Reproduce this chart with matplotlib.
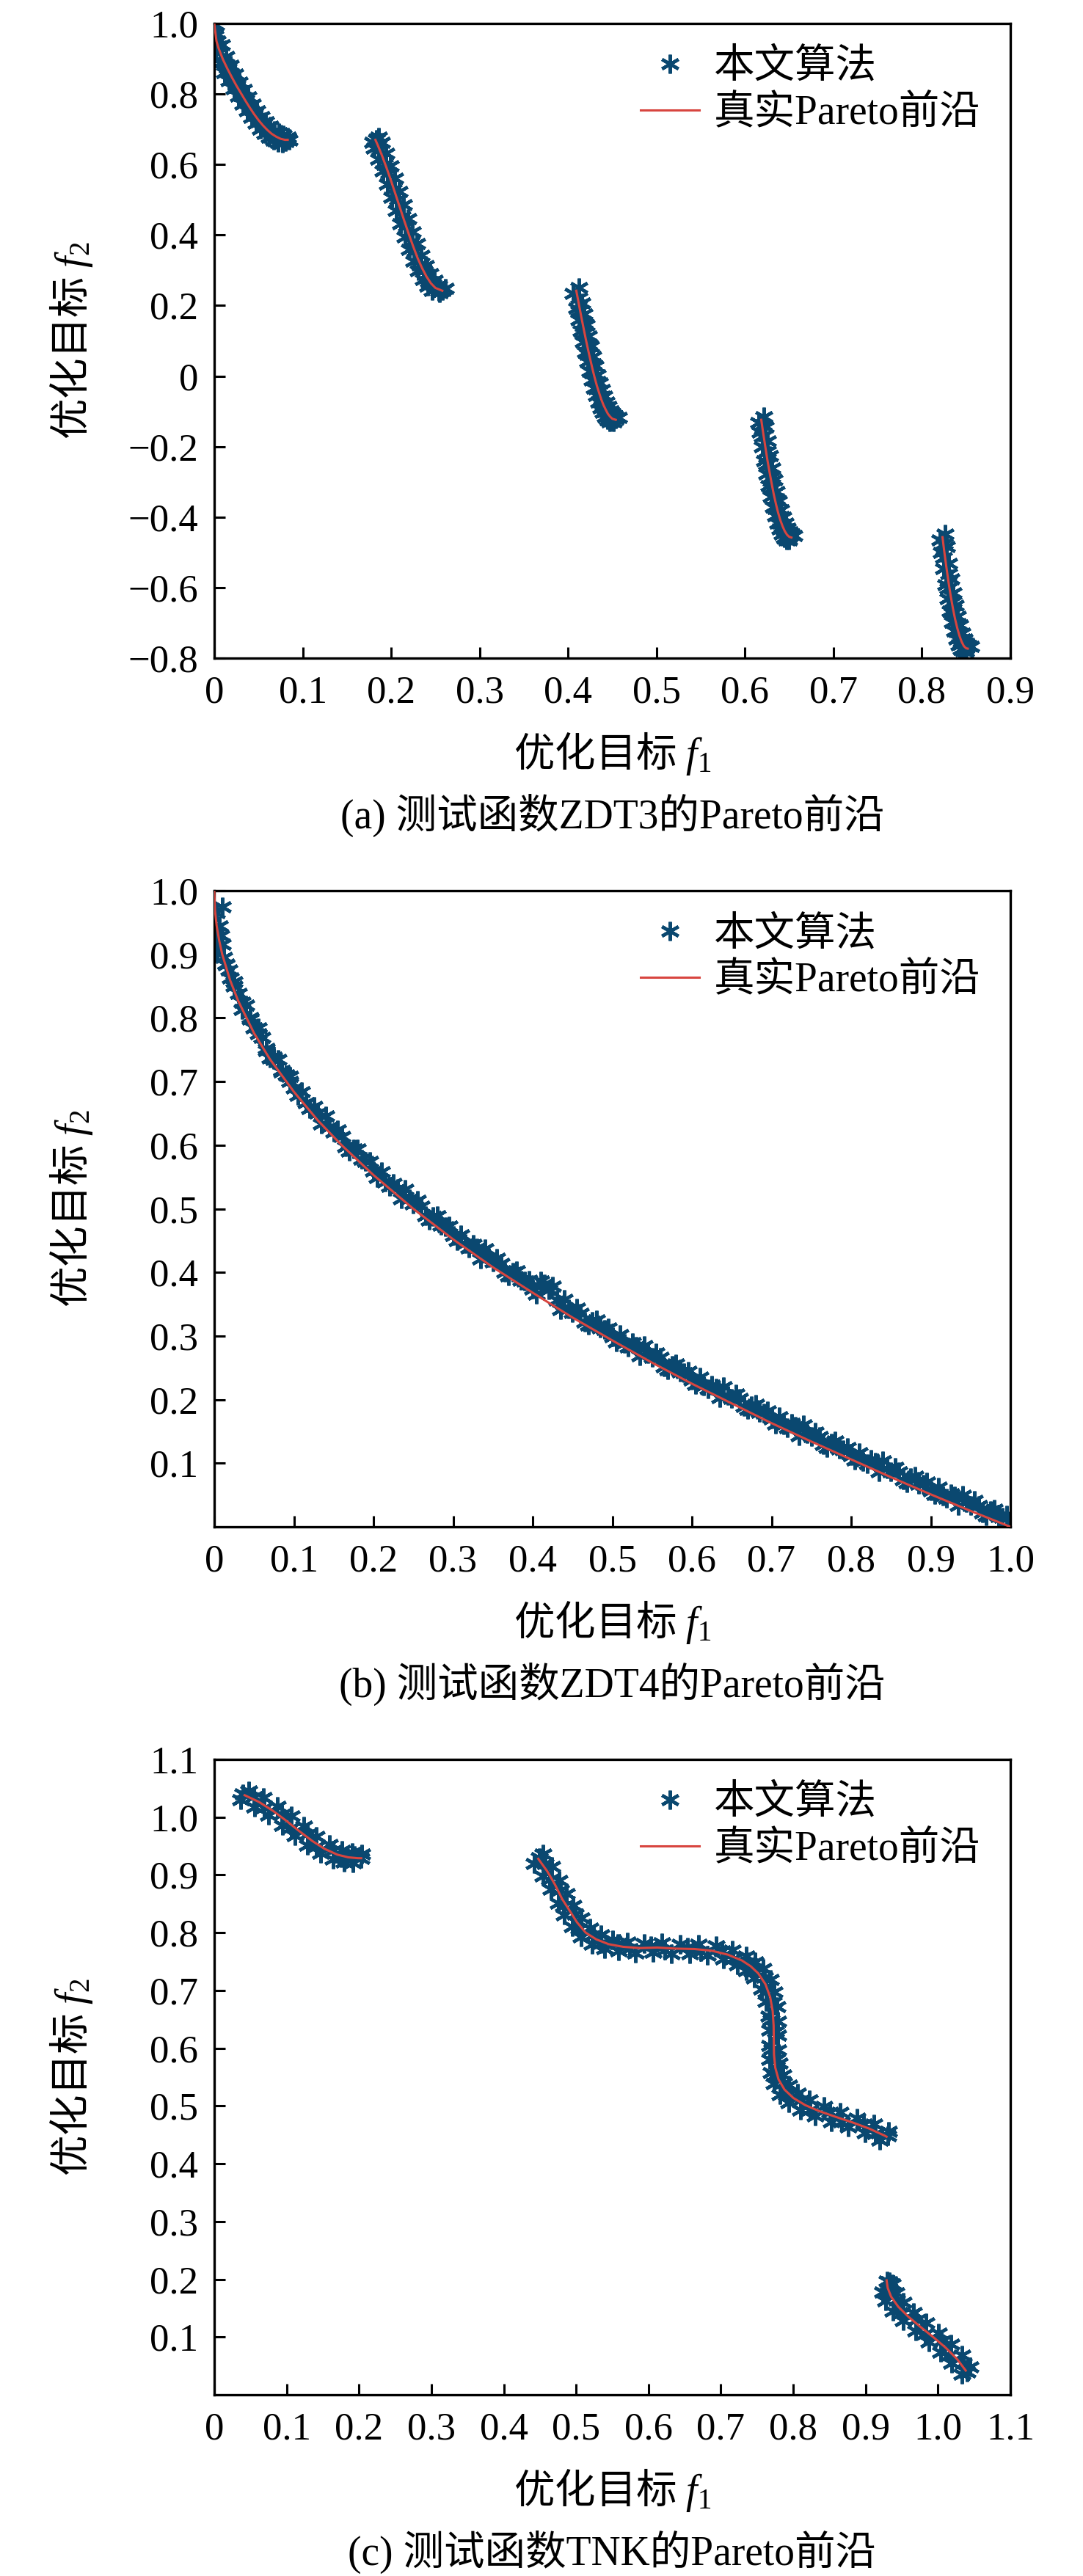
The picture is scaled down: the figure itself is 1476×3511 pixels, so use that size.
import matplotlib
matplotlib.use("Agg")
import matplotlib.pyplot as plt
from matplotlib.ticker import FixedLocator, FixedFormatter

plt.rcParams['font.family'] = ['Liberation Serif', 'Noto Sans CJK SC']
plt.rcParams['mathtext.fontset'] = 'custom'
plt.rcParams['mathtext.rm'] = 'Liberation Serif'
plt.rcParams['mathtext.it'] = 'Liberation Serif:italic'
plt.rcParams['mathtext.bf'] = 'Liberation Serif:bold'

# ---------------- texts ----------------
legend_labels = ['本文算法', '真实Pareto前沿']
xlabel_text = r'优化目标 $f_\mathrm{1}$'
ylabel_text = r'优化目标 $f_\mathrm{2}$'
captions = ['(a) 测试函数ZDT3的Pareto前沿',
            '(b) 测试函数ZDT4的Pareto前沿',
            '(c) 测试函数TNK的Pareto前沿']

# ---------------- panel (a) ZDT3 ----------------
zdt3_xticks = [0, 0.1, 0.2, 0.3, 0.4, 0.5, 0.6, 0.7, 0.8, 0.9]
zdt3_xticklabels = ['0', '0.1', '0.2', '0.3', '0.4', '0.5', '0.6', '0.7', '0.8', '0.9']
zdt3_yticks = [-0.8, -0.6, -0.4, -0.2, 0, 0.2, 0.4, 0.6, 0.8, 1.0]
zdt3_yticklabels = ['\u22120.8', '\u22120.6', '\u22120.4', '\u22120.2', '0', '0.2', '0.4', '0.6', '0.8', '1.0']

zdt3_line_f1 = [
    [0.0, 0.0025, 0.005, 0.01, 0.015, 0.02, 0.025, 0.03, 0.035, 0.04, 0.045, 0.05, 0.055, 0.06, 0.065, 0.07, 0.075, 0.08, 0.083],
    [0.1822, 0.185, 0.19, 0.195, 0.20, 0.205, 0.21, 0.215, 0.22, 0.225, 0.23, 0.235, 0.24, 0.245, 0.25, 0.2578],
    [0.4093, 0.4125, 0.415, 0.4175, 0.42, 0.4225, 0.425, 0.4275, 0.43, 0.4325, 0.435, 0.4375, 0.44, 0.4425, 0.445, 0.4475, 0.45, 0.4539],
    [0.6184, 0.62, 0.6225, 0.625, 0.6275, 0.63, 0.6325, 0.635, 0.6375, 0.64, 0.6425, 0.645, 0.6475, 0.65, 0.6525],
    [0.8233, 0.825, 0.8275, 0.83, 0.8325, 0.835, 0.8375, 0.84, 0.8425, 0.845, 0.8475, 0.85, 0.8518],
]
zdt3_line_f2 = [
    [1.0, 0.950, 0.929, 0.897, 0.871, 0.847, 0.824, 0.803, 0.782, 0.762, 0.743, 0.726, 0.711, 0.698, 0.687, 0.679, 0.673, 0.670, 0.670],
    [0.670, 0.654, 0.623, 0.589, 0.553, 0.515, 0.477, 0.439, 0.402, 0.367, 0.334, 0.306, 0.282, 0.263, 0.250, 0.242],
    [0.242, 0.200, 0.167, 0.136, 0.105, 0.076, 0.048, 0.021, -0.004, -0.027, -0.047, -0.066, -0.082, -0.095, -0.107, -0.115, -0.121, -0.124],
    [-0.124, -0.152, -0.193, -0.233, -0.269, -0.303, -0.335, -0.363, -0.388, -0.409, -0.426, -0.440, -0.450, -0.456, -0.458],
    [-0.457, -0.492, -0.539, -0.583, -0.623, -0.658, -0.689, -0.715, -0.737, -0.754, -0.766, -0.772, -0.773],
]

zdt3_pts_f1 = [
    # segment 1
    0.002, 0.000, 0.001, 0.003, 0.000, 0.008, 0.002, 0.013, 0.007, 0.018, 0.012, 0.023, 0.017,
    0.028, 0.022, 0.033, 0.027, 0.038, 0.032, 0.043, 0.037, 0.048, 0.042, 0.053, 0.047, 0.058,
    0.052, 0.063, 0.057, 0.068, 0.062, 0.073, 0.067, 0.078, 0.072, 0.083, 0.077, 0.085,
    0.0045, 0.0105, 0.0155, 0.0205, 0.0255, 0.0305, 0.0355, 0.0405, 0.0455, 0.0505, 0.0555,
    0.0605, 0.0655, 0.0705, 0.0755, 0.0805,
    # segment 2
    0.186, 0.179, 0.183, 0.189, 0.181, 0.194, 0.186, 0.199, 0.191, 0.204, 0.196, 0.209, 0.201,
    0.214, 0.206, 0.219, 0.211, 0.224, 0.216, 0.229, 0.221, 0.234, 0.226, 0.239, 0.231, 0.244,
    0.236, 0.249, 0.241, 0.254, 0.246, 0.261, 0.255, 0.258,
    0.1875, 0.1925, 0.1975, 0.2025, 0.2075, 0.2125, 0.2175, 0.2225, 0.2275, 0.2325, 0.2375,
    0.2425, 0.2475, 0.2535,
    # segment 3
    0.412, 0.406, 0.4155, 0.4095, 0.418, 0.412, 0.4205, 0.4145, 0.423, 0.417, 0.4255, 0.4195,
    0.428, 0.422, 0.4305, 0.4245, 0.433, 0.427, 0.4355, 0.4295, 0.438, 0.432, 0.4405, 0.4345,
    0.443, 0.437, 0.4455, 0.4395, 0.448, 0.442, 0.4505, 0.4445, 0.453, 0.447, 0.457, 0.451,
    0.4125, 0.4123, 0.4178, 0.4173, 0.4228, 0.4223, 0.4278, 0.4273, 0.4328, 0.4323, 0.4378,
    0.4373, 0.4428, 0.4423, 0.4478, 0.4473, 0.4535,
    # segment 4
    0.6214, 0.6154, 0.623, 0.617, 0.6255, 0.6195, 0.628, 0.622, 0.6305, 0.6245, 0.633, 0.627,
    0.6355, 0.6295, 0.638, 0.632, 0.6405, 0.6345, 0.643, 0.637, 0.6455, 0.6395, 0.648, 0.642,
    0.6505, 0.6445, 0.653, 0.647, 0.6555, 0.6495,
    0.6207, 0.6198, 0.6253, 0.6248, 0.6303, 0.6298, 0.6353, 0.6348, 0.6403, 0.6398, 0.6453,
    0.6448, 0.6503, 0.6498,
    # segment 5
    0.8263, 0.8203, 0.828, 0.822, 0.8305, 0.8245, 0.833, 0.827, 0.8355, 0.8295, 0.838, 0.832,
    0.8405, 0.8345, 0.843, 0.837, 0.8455, 0.8395, 0.848, 0.842, 0.8505, 0.8445, 0.853, 0.847,
    0.855, 0.849,
    0.8257, 0.8248, 0.8303, 0.8298, 0.8353, 0.8348, 0.8403, 0.8398, 0.8453, 0.8448, 0.8503, 0.8498,
]
zdt3_pts_f2 = [
    # segment 1
    0.995, 0.975, 0.965, 0.950, 0.935, 0.939, 0.919, 0.907, 0.887, 0.881, 0.861, 0.857, 0.837,
    0.834, 0.814, 0.813, 0.793, 0.792, 0.772, 0.772, 0.752, 0.753, 0.733, 0.736, 0.716, 0.721,
    0.701, 0.708, 0.688, 0.697, 0.677, 0.689, 0.669, 0.683, 0.663, 0.678, 0.660, 0.670,
    0.935, 0.889, 0.873, 0.841, 0.826, 0.797, 0.784, 0.756, 0.746, 0.721, 0.715,
    0.693, 0.691, 0.675, 0.677, 0.666,
    # segment 2
    0.678, 0.662, 0.672, 0.662, 0.646, 0.631, 0.615, 0.597, 0.581, 0.561, 0.545, 0.523, 0.507,
    0.485, 0.469, 0.447, 0.431, 0.410, 0.394, 0.375, 0.359, 0.342, 0.326, 0.314, 0.298, 0.290,
    0.274, 0.271, 0.255, 0.258, 0.242, 0.248, 0.236, 0.242,
    0.643, 0.601, 0.576, 0.529, 0.501, 0.453, 0.425, 0.379, 0.355, 0.315, 0.299,
    0.267, 0.261, 0.241,
    # segment 3
    0.250, 0.234, 0.208, 0.192, 0.175, 0.159, 0.144, 0.128, 0.113, 0.097, 0.084, 0.068,
    0.056, 0.040, 0.029, 0.013, 0.004, -0.012, -0.019, -0.035, -0.039, -0.055, -0.058, -0.074,
    -0.074, -0.090, -0.087, -0.103, -0.099, -0.115, -0.107, -0.123, -0.113, -0.129, -0.118, -0.130,
    0.221, 0.1835, 0.1515, 0.1205, 0.0905, 0.062, 0.0345, 0.0085, -0.0155, -0.037, -0.0565,
    -0.074, -0.0885, -0.101, -0.111, -0.118, -0.1225,
    # segment 4
    -0.116, -0.132, -0.144, -0.160, -0.185, -0.201, -0.225, -0.241, -0.261, -0.277, -0.295, -0.311,
    -0.327, -0.343, -0.355, -0.371, -0.380, -0.396, -0.401, -0.417, -0.418, -0.434, -0.432, -0.448,
    -0.442, -0.458, -0.448, -0.464, -0.452, -0.466,
    -0.138, -0.1725, -0.213, -0.251, -0.286, -0.319, -0.349, -0.3755, -0.3985, -0.4175, -0.433,
    -0.445, -0.453, -0.457,
    # segment 5
    -0.449, -0.465, -0.484, -0.500, -0.531, -0.547, -0.575, -0.591, -0.615, -0.631, -0.650, -0.666,
    -0.681, -0.697, -0.707, -0.723, -0.729, -0.745, -0.746, -0.762, -0.758, -0.774, -0.764, -0.780,
    -0.767, -0.781,
    -0.4745, -0.5155, -0.561, -0.603, -0.6405, -0.6735, -0.702, -0.726, -0.7455, -0.760, -0.769, -0.7725,
]

# ---------------- panel (b) ZDT4 ----------------
zdt4_xticks = [0, 0.1, 0.2, 0.3, 0.4, 0.5, 0.6, 0.7, 0.8, 0.9, 1.0]
zdt4_xticklabels = ['0', '0.1', '0.2', '0.3', '0.4', '0.5', '0.6', '0.7', '0.8', '0.9', '1.0']
zdt4_yticks = [0.1, 0.2, 0.3, 0.4, 0.5, 0.6, 0.7, 0.8, 0.9, 1.0]
zdt4_yticklabels = ['0.1', '0.2', '0.3', '0.4', '0.5', '0.6', '0.7', '0.8', '0.9', '1.0']

zdt4_line_f1 = [0.0, 0.001, 0.003, 0.006, 0.01, 0.02, 0.03, 0.05, 0.07, 0.1, 0.13, 0.16, 0.2, 0.25,
                0.3, 0.35, 0.4, 0.45, 0.5, 0.55, 0.6, 0.65, 0.7, 0.75, 0.8, 0.85, 0.9, 0.95, 1.0]
zdt4_line_f2 = [1.0, 0.968, 0.945, 0.923, 0.900, 0.859, 0.827, 0.776, 0.735, 0.684, 0.639, 0.600, 0.553, 0.500,
                0.452, 0.408, 0.368, 0.329, 0.293, 0.258, 0.225, 0.194, 0.163, 0.134, 0.106, 0.078, 0.051, 0.025, 0.0]

zdt4_pts_f1 = [
    0.010, 0.003, 0.006, 0.002, 0.008, 0.004, 0.012, 0.015, 0.018, 0.025, 0.035, 0.045, 0.055, 0.065,
    0.075, 0.085, 0.095,
    0.01, 0.02, 0.03, 0.04, 0.05, 0.06, 0.07, 0.08, 0.09, 0.10,
    0.11, 0.12, 0.13, 0.14, 0.15, 0.16, 0.17, 0.18, 0.19, 0.20,
    0.21, 0.22, 0.23, 0.24, 0.25, 0.26, 0.27, 0.28, 0.29, 0.30,
    0.31, 0.32, 0.33, 0.34, 0.35, 0.36, 0.37, 0.38, 0.39, 0.40,
    0.41, 0.42, 0.43, 0.44, 0.45, 0.46, 0.47, 0.48, 0.49, 0.50,
    0.51, 0.52, 0.53, 0.54, 0.55, 0.56, 0.57, 0.58, 0.59, 0.60,
    0.61, 0.62, 0.63, 0.64, 0.65, 0.66, 0.67, 0.68, 0.69, 0.70,
    0.71, 0.72, 0.73, 0.74, 0.75, 0.76, 0.77, 0.78, 0.79, 0.80,
    0.81, 0.82, 0.83, 0.84, 0.85, 0.86, 0.87, 0.88, 0.89, 0.90,
    0.91, 0.92, 0.93, 0.94, 0.95, 0.96, 0.97, 0.98, 0.99, 1.00,
    0.015, 0.025, 0.035, 0.045, 0.055, 0.065, 0.075, 0.085, 0.095,
    0.105, 0.115, 0.125, 0.135, 0.145, 0.155, 0.165, 0.175, 0.185, 0.195,
    0.205, 0.215, 0.225, 0.235, 0.245, 0.255, 0.265, 0.275, 0.285, 0.295,
    0.305, 0.315, 0.325, 0.335, 0.345, 0.355, 0.365, 0.375, 0.385, 0.395,
    0.405, 0.415, 0.425, 0.435, 0.445, 0.455, 0.465, 0.475, 0.485, 0.495,
    0.505, 0.515, 0.525, 0.535, 0.545, 0.555, 0.565, 0.575, 0.585, 0.595,
    0.605, 0.615, 0.625, 0.635, 0.645, 0.655, 0.665, 0.675, 0.685, 0.695,
    0.705, 0.715, 0.725, 0.735, 0.745, 0.755, 0.765, 0.775, 0.785, 0.795,
    0.805, 0.815, 0.825, 0.835, 0.845, 0.855, 0.865, 0.875, 0.885, 0.895,
    0.905, 0.915, 0.925, 0.935, 0.945, 0.955, 0.965, 0.975, 0.985, 0.995,
]
zdt4_pts_f2 = [
    0.975, 0.965, 0.945, 0.930, 0.930, 0.905, 0.895, 0.885, 0.875, 0.850, 0.825, 0.800, 0.775, 0.752,
    0.735, 0.715, 0.700,
    0.916, 0.863, 0.839, 0.820, 0.784, 0.769, 0.737, 0.735, 0.710, 0.690,
    0.684, 0.658, 0.651, 0.646, 0.621, 0.614, 0.590, 0.594, 0.574, 0.559,
    0.558, 0.535, 0.532, 0.530, 0.508, 0.504, 0.482, 0.489, 0.472, 0.458,
    0.459, 0.438, 0.438, 0.437, 0.416, 0.414, 0.394, 0.402, 0.386, 0.374,
    0.386, 0.372, 0.356, 0.357, 0.337, 0.336, 0.317, 0.325, 0.310, 0.299,
    0.302, 0.283, 0.284, 0.285, 0.266, 0.266, 0.247, 0.256, 0.242, 0.231,
    0.235, 0.217, 0.218, 0.220, 0.202, 0.202, 0.184, 0.193, 0.179, 0.169,
    0.173, 0.156, 0.158, 0.160, 0.142, 0.142, 0.125, 0.135, 0.121, 0.112,
    0.116, 0.099, 0.101, 0.104, 0.086, 0.087, 0.069, 0.080, 0.067, 0.057,
    0.062, 0.045, 0.048, 0.050, 0.033, 0.034, 0.017, 0.028, 0.015, 0.006,
    0.884, 0.857, 0.813, 0.798, 0.784, 0.749, 0.738, 0.717, 0.708,
    0.678, 0.667, 0.661, 0.633, 0.629, 0.624, 0.598, 0.594, 0.578, 0.574,
    0.549, 0.542, 0.540, 0.515, 0.515, 0.513, 0.489, 0.488, 0.474, 0.473,
    0.450, 0.445, 0.444, 0.421, 0.423, 0.422, 0.400, 0.400, 0.388, 0.388,
    0.366, 0.382, 0.378, 0.341, 0.343, 0.344, 0.322, 0.323, 0.312, 0.312,
    0.291, 0.288, 0.290, 0.269, 0.272, 0.273, 0.252, 0.254, 0.243, 0.245,
    0.224, 0.222, 0.223, 0.203, 0.207, 0.209, 0.189, 0.190, 0.180, 0.182,
    0.162, 0.160, 0.163, 0.143, 0.147, 0.149, 0.129, 0.132, 0.122, 0.124,
    0.105, 0.103, 0.106, 0.086, 0.091, 0.093, 0.074, 0.077, 0.067, 0.070,
    0.051, 0.049, 0.052, 0.033, 0.038, 0.041, 0.022, 0.025, 0.016, 0.019,
]

# ---------------- panel (c) TNK ----------------
tnk_xticks = [0, 0.1, 0.2, 0.3, 0.4, 0.5, 0.6, 0.7, 0.8, 0.9, 1.0, 1.1]
tnk_xticklabels = ['0', '0.1', '0.2', '0.3', '0.4', '0.5', '0.6', '0.7', '0.8', '0.9', '1.0', '1.1']
tnk_yticks = [0.1, 0.2, 0.3, 0.4, 0.5, 0.6, 0.7, 0.8, 0.9, 1.0, 1.1]
tnk_yticklabels = ['0.1', '0.2', '0.3', '0.4', '0.5', '0.6', '0.7', '0.8', '0.9', '1.0', '1.1']

tnk_line_f1 = [
    [0.042, 0.0617, 0.0811, 0.0997, 0.1176, 0.1351, 0.1525, 0.1701, 0.1851, 0.1981, 0.2030],
    [0.4477, 0.4603, 0.4709, 0.4806, 0.4904, 0.5012, 0.5133, 0.5279, 0.5450, 0.5652, 0.5881, 0.6123,
     0.6379, 0.6634, 0.6873, 0.7098, 0.7292, 0.7412, 0.7515, 0.7616, 0.7681, 0.7716, 0.7729, 0.7731,
     0.7734, 0.7752, 0.7797, 0.7879, 0.8002, 0.8165, 0.8363, 0.8586, 0.8821, 0.9052, 0.9265, 0.9289],
    [0.9290, 0.9305, 0.9351, 0.9451, 0.9591, 0.9757, 0.9936, 1.0110, 1.0264, 1.0383],
]
tnk_line_f2 = [
    [1.038, 1.0264, 1.0110, 0.9936, 0.9757, 0.9591, 0.9451, 0.9351, 0.9305, 0.9290, 0.9289],
    [0.9279, 0.9060, 0.8830, 0.8585, 0.8394, 0.8180, 0.8000, 0.7884, 0.7801, 0.7755, 0.7734, 0.7743,
     0.7724, 0.7717, 0.7688, 0.7619, 0.7518, 0.7419, 0.7298, 0.7108, 0.6886, 0.6643, 0.6390, 0.6135,
     0.5889, 0.5662, 0.5459, 0.5284, 0.5138, 0.5015, 0.4909, 0.4812, 0.4714, 0.4607, 0.4485, 0.4468],
    [0.1981, 0.1851, 0.1701, 0.1525, 0.1351, 0.1176, 0.0997, 0.0811, 0.0617, 0.042],
]

tnk_pts_f1 = [
    # segment 1
    0.040, 0.048, 0.036, 0.068, 0.056, 0.087, 0.075, 0.106, 0.094, 0.124, 0.112, 0.141, 0.129,
    0.159, 0.147, 0.176, 0.164, 0.191, 0.179, 0.204, 0.192, 0.203,
    0.055, 0.069, 0.093, 0.106, 0.129, 0.141, 0.164, 0.175, 0.194,
    # segment 2
    0.449, 0.454, 0.442, 0.466, 0.454, 0.477, 0.465, 0.487, 0.475, 0.496, 0.484, 0.507, 0.495,
    0.519, 0.507, 0.534, 0.522, 0.551, 0.539, 0.571, 0.559, 0.594, 0.582, 0.618, 0.606, 0.644, 0.632,
    0.669, 0.657, 0.693, 0.681, 0.716, 0.704, 0.735, 0.723, 0.747, 0.735, 0.758, 0.746, 0.768, 0.756,
    0.774, 0.762, 0.778, 0.766, 0.779, 0.767, 0.779, 0.767, 0.779, 0.767, 0.781, 0.769, 0.786, 0.774,
    0.794, 0.782, 0.806, 0.794, 0.822, 0.810, 0.842, 0.830, 0.865, 0.853, 0.888, 0.876, 0.911, 0.899,
    0.932, 0.920, 0.931,
    0.457, 0.463, 0.479, 0.483, 0.499, 0.504, 0.524, 0.534, 0.558, 0.574, 0.603, 0.622, 0.654,
    0.672, 0.702, 0.717, 0.738, 0.743, 0.760, 0.762, 0.773, 0.769, 0.776, 0.770, 0.777, 0.775,
    0.787, 0.791, 0.811, 0.823, 0.851, 0.867, 0.897, 0.913,
    # segment 3
    0.930, 0.937, 0.924, 0.942, 0.928, 0.952, 0.938, 0.966, 0.952, 0.983, 0.969, 1.001, 0.987,
    1.018, 1.004, 1.033, 1.019, 1.044, 1.033, 1.040,
    0.933, 0.930, 0.943, 0.949, 0.970, 0.982, 1.005, 1.016, 1.035,
]
tnk_pts_f2 = [
    # segment 1
    1.040, 1.046, 1.030, 1.034, 1.018, 1.019, 1.003, 1.002, 0.986, 0.984, 0.968, 0.967, 0.951,
    0.953, 0.937, 0.943, 0.927, 0.939, 0.922, 0.936, 0.921, 0.929,
    1.035, 1.016, 1.005, 0.982, 0.970, 0.949, 0.943, 0.930, 0.933,
    # segment 2
    0.930, 0.936, 0.920, 0.914, 0.898, 0.891, 0.875, 0.867, 0.851, 0.847, 0.831, 0.826, 0.810,
    0.808, 0.792, 0.796, 0.780, 0.788, 0.772, 0.784, 0.768, 0.781, 0.765, 0.782, 0.766, 0.780, 0.764,
    0.780, 0.764, 0.777, 0.761, 0.770, 0.754, 0.760, 0.744, 0.750, 0.734, 0.738, 0.722, 0.719, 0.703,
    0.697, 0.681, 0.672, 0.656, 0.647, 0.631, 0.622, 0.605, 0.597, 0.581, 0.574, 0.558, 0.554, 0.538,
    0.536, 0.520, 0.522, 0.506, 0.510, 0.493, 0.499, 0.483, 0.489, 0.473, 0.479, 0.463, 0.469, 0.453,
    0.456, 0.441, 0.449,
    0.920, 0.892, 0.874, 0.846, 0.832, 0.806, 0.797, 0.781, 0.781, 0.772, 0.777, 0.770, 0.775,
    0.767, 0.768, 0.754, 0.750, 0.733, 0.723, 0.697, 0.680, 0.649, 0.629, 0.598, 0.581, 0.553,
    0.540, 0.518, 0.511, 0.493, 0.489, 0.473, 0.469, 0.452,
    # segment 3
    0.197, 0.192, 0.178, 0.177, 0.163, 0.160, 0.145, 0.142, 0.128, 0.125, 0.110, 0.107, 0.092,
    0.088, 0.074, 0.069, 0.054, 0.048, 0.036, 0.040,
    0.195, 0.175, 0.164, 0.141, 0.129, 0.106, 0.093, 0.069, 0.055,
]

# ---------------- figure ----------------
W, H = 1476, 3511
fig = plt.figure(figsize=(W / 100, H / 100), dpi=100)

SCATTER_C = '#0a4870'
LINE_C = '#d8453f'
AX_LEFT, AX_RIGHT = 292, 1377
CJK = 'Noto Sans CJK SC'

panels = [
    dict(top=32, bottom=897, xlim=(0, 0.9), ylim=(-0.8, 1.0),
         xt=zdt3_xticks, xtl=zdt3_xticklabels, yt=zdt3_yticks, ytl=zdt3_yticklabels,
         lf1=zdt3_line_f1, lf2=zdt3_line_f2, pf1=zdt3_pts_f1, pf2=zdt3_pts_f2, cap=captions[0]),
    dict(top=1214, bottom=2081, xlim=(0, 1.0), ylim=(0, 1.0),
         xt=zdt4_xticks, xtl=zdt4_xticklabels, yt=zdt4_yticks, ytl=zdt4_yticklabels,
         lf1=[zdt4_line_f1], lf2=[zdt4_line_f2], pf1=zdt4_pts_f1, pf2=zdt4_pts_f2, cap=captions[1]),
    dict(top=2398, bottom=3264, xlim=(0, 1.1), ylim=(0, 1.1),
         xt=tnk_xticks, xtl=tnk_xticklabels, yt=tnk_yticks, ytl=tnk_yticklabels,
         lf1=tnk_line_f1, lf2=tnk_line_f2, pf1=tnk_pts_f1, pf2=tnk_pts_f2, cap=captions[2]),
]

for p in panels:
    top, bottom = p['top'], p['bottom']
    ax_w = AX_RIGHT - AX_LEFT
    ax_h = bottom - top
    ax = fig.add_axes([AX_LEFT / W, 1 - bottom / H, ax_w / W, ax_h / H])

    pts, = ax.plot(p['pf1'], p['pf2'], linestyle='none', marker=(6, 2, 0),
                   markersize=18.5, markeredgewidth=3.2, color=SCATTER_C, zorder=2)
    line = None
    for xs, ys in zip(p['lf1'], p['lf2']):
        line, = ax.plot(xs, ys, color=LINE_C, linewidth=2.2, zorder=3)

    ax.set_xlim(*p['xlim'])
    ax.set_ylim(*p['ylim'])
    ax.xaxis.set_major_locator(FixedLocator(p['xt']))
    ax.xaxis.set_major_formatter(FixedFormatter(p['xtl']))
    ax.yaxis.set_major_locator(FixedLocator(p['yt']))
    ax.yaxis.set_major_formatter(FixedFormatter(p['ytl']))

    for s in ax.spines.values():
        s.set_linewidth(2.4)
    ax.tick_params(axis='both', which='major', direction='in', length=10.8, width=2.2,
                   labelsize=38, top=False, right=False, colors='black')
    ax.tick_params(axis='x', pad=17)
    ax.tick_params(axis='y', pad=15.5)

    ax.set_xlabel(xlabel_text, fontsize=40, fontfamily=CJK)
    ax.xaxis.label.set_verticalalignment('center')
    ax.xaxis.set_label_coords(0.5, -130 / ax_h)

    ax.set_ylabel(ylabel_text, fontsize=40, fontfamily=CJK)
    ax.yaxis.label.set_rotation_mode('default')
    ax.yaxis.label.set_verticalalignment('center')
    ax.yaxis.label.set_horizontalalignment('center')
    ax.yaxis.set_label_coords((97 - AX_LEFT) / ax_w, 0.5)

    ax.text(0.5, -214 / ax_h, p['cap'], transform=ax.transAxes, fontsize=40,
            ha='center', va='center')

    ax.legend([pts, line], legend_labels, loc='upper left',
              bbox_to_anchor=((873 - AX_LEFT) / ax_w, 1 - 34 / ax_h),
              bbox_transform=ax.transAxes, frameon=False, fontsize=40,
              borderpad=0, borderaxespad=0, handlelength=1.44, handletextpad=0.36,
              labelspacing=0.2, numpoints=1)

fig.savefig('out.png', dpi=100)
